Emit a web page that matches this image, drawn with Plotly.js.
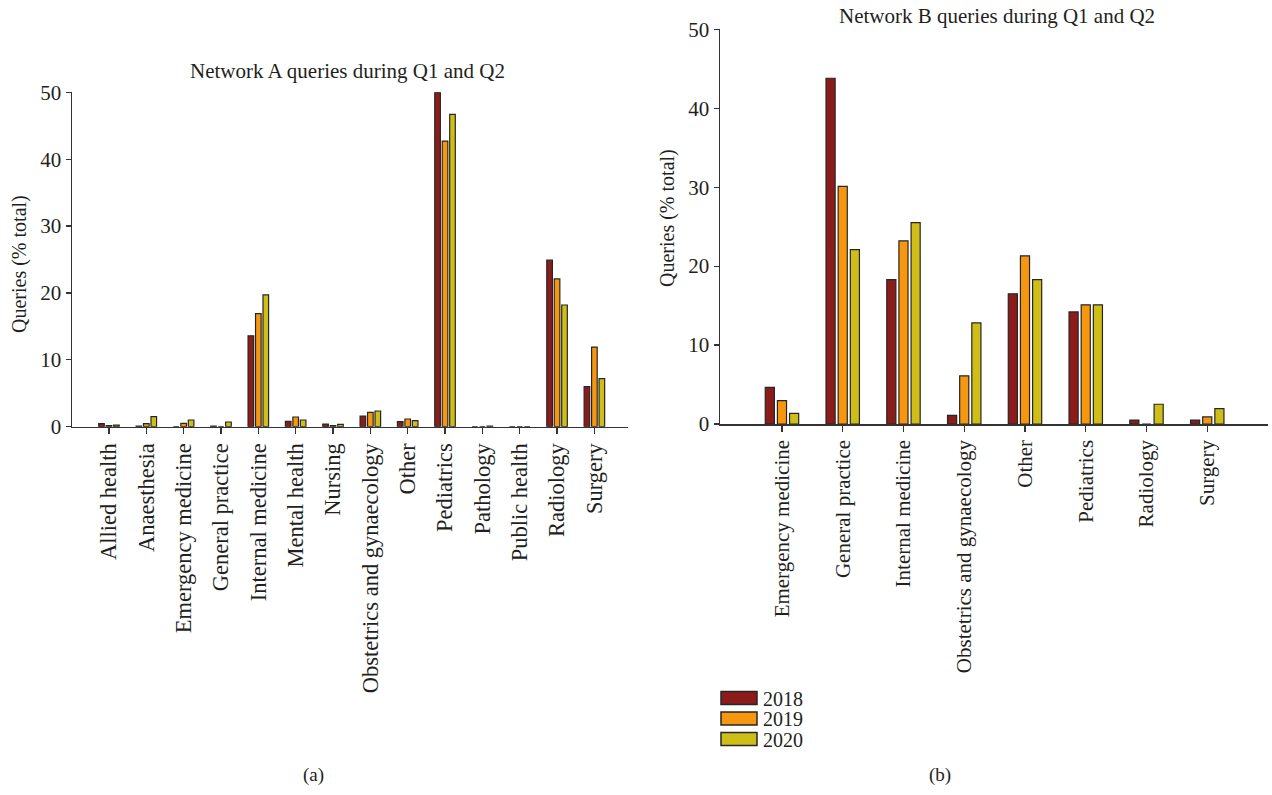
<!DOCTYPE html>
<html>
<head>
<meta charset="utf-8">
<script src="https://cdn.plot.ly/plotly-3.0.1.min.js"></script>
<style>html,body{margin:0;padding:0;background:#fff;}#chart{width:1272px;height:795px;}</style>
</head>
<body>
<div id="chart"></div>
<script>
// ---- Data ----
const years = ["2018", "2019", "2020"];
const colors = ["#8b1c1a", "#f7960f", "#cfbe17"];

const catsA = ["Allied health", "Anaesthesia", "Emergency medicine", "General practice",
  "Internal medicine", "Mental health", "Nursing", "Obstetrics and gynaecology", "Other",
  "Pediatrics", "Pathology", "Public health", "Radiology", "Surgery"];
const a2018 = [0.45, 0.1, 0, 0.1, 13.6, 0.8, 0.4, 1.6, 0.75, 50.0, 0, 0, 24.9, 6.0];
const a2019 = [0.15, 0.45, 0.5, 0, 16.9, 1.45, 0.15, 2.15, 1.15, 42.7, 0, 0, 22.1, 11.9];
const a2020 = [0.25, 1.5, 1.0, 0.7, 19.7, 1.0, 0.35, 2.35, 0.9, 46.7, 0.1, 0, 18.2, 7.2];

const catsB = ["Emergency medicine", "General practice", "Internal medicine",
  "Obstetrics and gynaecology", "Other", "Pediatrics", "Radiology", "Surgery"];
const b2018 = [4.65, 43.8, 18.3, 1.1, 16.5, 14.2, 0.5, 0.5];
const b2019 = [2.95, 30.1, 23.2, 6.1, 21.3, 15.1, 0, 0.9];
const b2020 = [1.35, 22.1, 25.5, 12.8, 18.3, 15.1, 2.5, 1.95];

const titleA = "Network A queries during Q1 and Q2";
const titleB = "Network B queries during Q1 and Q2";
const yTitle = "Queries (% total)";

// ---- Traces ----
const serif = "Liberation Serif, Times New Roman, serif";
const txt = "#231f20";
const seriesA = [a2018, a2019, a2020];
const seriesB = [b2018, b2019, b2020];
const traces = [];
years.forEach((yr, i) => {
  traces.push({
    type: "bar", name: yr, x: catsA, y: seriesA[i], xaxis: "x", yaxis: "y",
    legendgroup: yr, showlegend: false,
    marker: {color: colors[i], line: {color: "#262626", width: 1.2}}
  });
});
years.forEach((yr, i) => {
  traces.push({
    type: "bar", name: yr, x: catsB, y: seriesB[i], xaxis: "x2", yaxis: "y2",
    legendgroup: yr, showlegend: false,
    marker: {color: colors[i], line: {color: "#262626", width: 1.2}}
  });
});

const W = 1272, H = 795;
const px = v => v / W;
const py = v => (H - v) / H;

const axisCommon = {
  showgrid: false, zeroline: false, showline: true, linecolor: "#333", linewidth: 1.5,
  ticks: "outside", ticklen: 6, tickcolor: "#333", tickwidth: 1.2, automargin: false,
  tickfont: {family: serif, size: 21, color: txt}
};

// Legend (drawn as swatches + real text labels)
const shapes = [];
const annotations = [];
years.forEach((yr, i) => {
  const cy = 698 + i * 20.5;
  shapes.push({type: "rect", xref: "paper", yref: "paper",
    x0: px(721), x1: px(757), y0: py(cy + 6.5), y1: py(cy - 6.5),
    fillcolor: colors[i], line: {color: "#262626", width: 1.5}});
  annotations.push({text: yr, x: px(762), y: py(cy), xref: "paper", yref: "paper",
    xanchor: "left", yanchor: "middle", showarrow: false, borderpad: 0, height: 19,
    font: {family: serif, size: 20, color: txt}});
});

function ann(text, x, y, size, angle) {
  return {text: text, x: px(x), y: py(y), xref: "paper", yref: "paper",
    xanchor: "center", yanchor: "middle", showarrow: false, textangle: angle || 0,
    font: {family: serif, size: size, color: txt}};
}
annotations.push(ann(titleA, 347, 71, 21));
annotations.push(ann(titleB, 997, 16, 21));
annotations.push(ann(yTitle, 19, 264, 20, -90));
annotations.push(ann(yTitle, 667, 218, 20, -90));
annotations.push(ann("(a)", 313, 775, 19));
annotations.push(ann("(b)", 940, 775, 19));

const layout = {
  width: W, height: H,
  margin: {l: 0, r: 0, t: 0, b: 0},
  paper_bgcolor: "#fff", plot_bgcolor: "#fff",
  barmode: "group", bargap: 0.4, bargroupgap: 0.25,
  font: {family: serif, color: txt},
  showlegend: false,
  xaxis: Object.assign({}, axisCommon, {
    domain: [px(72), px(628)], anchor: "y", type: "category",
    range: [-0.99, 13.9], tickangle: -90,
    tickfont: {family: serif, size: 22.5, color: txt}
  }),
  yaxis: Object.assign({}, axisCommon, {
    domain: [py(426.7), py(92.3)], anchor: "x",
    range: [0, 50], dtick: 10, ticklen: 5
  }),
  xaxis2: Object.assign({}, axisCommon, {
    domain: [px(720), px(1268)], anchor: "y2", type: "category",
    range: [-1.02, 8.0], tickangle: -90
  }),
  yaxis2: Object.assign({}, axisCommon, {
    domain: [py(424), py(29.3)], anchor: "x2",
    range: [0, 50], dtick: 10, ticklen: 5
  }),
  shapes: shapes,
  annotations: annotations
};

Plotly.newPlot("chart", traces, layout, {displayModeBar: false, staticPlot: true});
</script>
</body>
</html>
